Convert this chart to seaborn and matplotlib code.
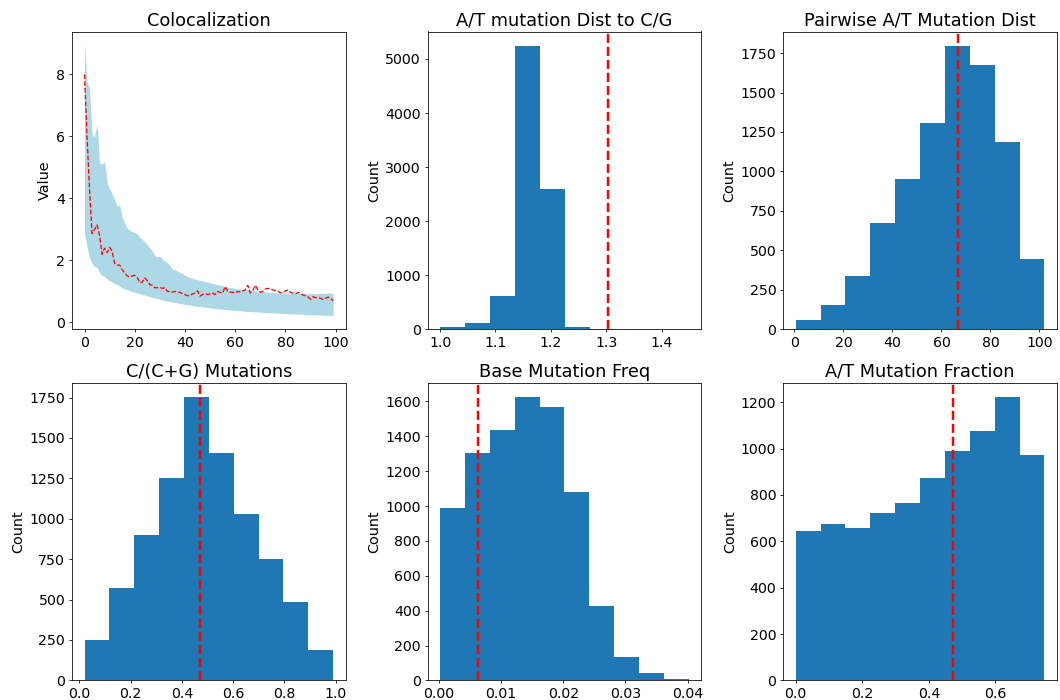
import numpy as np
import pandas as pd
import matplotlib
matplotlib.use("Agg")
import matplotlib.pyplot as plt
import seaborn as sns

# ---- Colocalization: mean curve with spread band over 100 steps ----
coloc_mean = [
    8.00, 6.00, 4.30, 2.87, 3.00, 3.15, 2.80, 2.20, 2.40, 2.25,
    2.42, 2.30, 1.90, 1.85, 1.85, 1.70, 1.60, 1.50, 1.47, 1.50,
    1.52, 1.45, 1.28, 1.30, 1.44, 1.35, 1.22, 1.20, 1.12, 1.12,
    1.13, 1.10, 1.12, 1.00, 1.00, 0.98, 1.00, 0.98, 0.97, 0.93,
    0.90, 0.86, 0.88, 0.92, 0.95, 1.02, 0.85, 0.90, 0.93, 0.90,
    0.92, 0.95, 0.90, 1.00, 0.97, 0.95, 1.16, 1.00, 0.98, 0.97,
    0.95, 1.00, 0.98, 1.02, 1.05, 1.20, 0.95, 1.02, 1.20, 1.05,
    0.97, 1.00, 1.08, 1.10, 1.07, 1.05, 1.03, 1.00, 0.96, 0.95,
    1.02, 1.05, 0.97, 0.95, 0.92, 0.97, 0.95, 0.88, 0.86, 0.82,
    0.75, 0.83, 0.80, 0.80, 0.78, 0.74, 0.78, 0.82, 0.77, 0.70,
]
coloc_upper = [
    8.95, 7.75, 7.55, 6.05, 6.00, 6.40, 5.15, 5.10, 5.20, 4.50,
    4.30, 4.15, 3.95, 3.75, 3.78, 3.40, 3.20, 3.05, 2.97, 2.93,
    2.90, 2.85, 2.75, 2.68, 2.60, 2.50, 2.40, 2.30, 2.15, 2.12,
    2.14, 2.05, 1.98, 1.92, 1.85, 1.72, 1.70, 1.66, 1.62, 1.58,
    1.52, 1.48, 1.45, 1.42, 1.40, 1.38, 1.36, 1.34, 1.32, 1.30,
    1.28, 1.26, 1.24, 1.22, 1.20, 1.18, 1.16, 1.14, 1.13, 1.12,
    1.10, 1.09, 1.08, 1.07, 1.06, 1.05, 1.04, 1.03, 1.02, 1.01,
    1.00, 0.99, 0.99, 0.98, 0.97, 0.97, 0.96, 0.96, 0.95, 0.95,
    0.94, 0.95, 0.93, 0.94, 0.96, 0.94, 0.93, 0.95, 0.94, 0.92,
    0.93, 0.94, 0.92, 0.93, 0.95, 0.93, 0.94, 0.96, 0.95, 0.92,
]
coloc_lower = [
    2.85, 2.45, 2.10, 1.90, 1.80, 1.78, 1.60, 1.52, 1.48, 1.40,
    1.35, 1.30, 1.25, 1.22, 1.18, 1.12, 1.08, 1.05, 1.02, 1.00,
    0.97, 0.95, 0.93, 0.90, 0.88, 0.86, 0.83, 0.81, 0.79, 0.77,
    0.75, 0.73, 0.71, 0.69, 0.67, 0.66, 0.64, 0.63, 0.61, 0.60,
    0.58, 0.57, 0.56, 0.54, 0.53, 0.52, 0.51, 0.50, 0.49, 0.48,
    0.47, 0.46, 0.45, 0.44, 0.43, 0.43, 0.42, 0.41, 0.40, 0.40,
    0.39, 0.38, 0.38, 0.37, 0.36, 0.36, 0.35, 0.35, 0.34, 0.34,
    0.33, 0.33, 0.32, 0.32, 0.31, 0.31, 0.30, 0.30, 0.30, 0.29,
    0.29, 0.28, 0.28, 0.28, 0.27, 0.27, 0.27, 0.26, 0.26, 0.26,
    0.25, 0.25, 0.25, 0.24, 0.24, 0.24, 0.23, 0.23, 0.23, 0.22,
]
coloc_steps = list(range(len(coloc_mean)))

# ---- Histogram panels: bin edges, bin counts, observed value ----
at_dist_edges = [1.000, 1.045, 1.090, 1.135, 1.180, 1.225, 1.270, 1.315, 1.360, 1.405, 1.449]
at_dist_counts = [35, 123, 610, 5246, 2586, 37, 5, 4, 3, 2]
at_dist_obs = 1.304

pair_edges = [0.5, 10.65, 20.8, 30.95, 41.1, 51.25, 61.4, 71.55, 81.7, 91.85, 102.0]
pair_counts = [60, 155, 338, 674, 955, 1309, 1797, 1676, 1188, 446]
pair_obs = 66.8

cg_edges = [0.0196, 0.1167, 0.2138, 0.3110, 0.4081, 0.5052, 0.6023, 0.6994, 0.7966, 0.8937, 0.9908]
cg_counts = [253, 570, 898, 1254, 1754, 1406, 1031, 754, 488, 185]
cg_obs = 0.4706

base_edges = [0.0002, 0.0042, 0.0082, 0.0122, 0.0162, 0.0202, 0.0242, 0.0282, 0.0322, 0.0362, 0.0402]
base_counts = [990, 1303, 1437, 1626, 1569, 1078, 429, 134, 40, 6]
base_obs = 0.0063

atf_edges = [0.0, 0.0747, 0.1494, 0.2241, 0.2988, 0.3735, 0.4482, 0.5229, 0.5976, 0.6723, 0.747]
atf_counts = [646, 676, 659, 723, 764, 874, 990, 1077, 1223, 973]
atf_obs = 0.471

titles = [
    "Colocalization",
    "A/T mutation Dist to C/G",
    "Pairwise A/T Mutation Dist",
    "C/(C+G) Mutations",
    "Base Mutation Freq",
    "A/T Mutation Fraction",
]

BAR_COLOR = "#1f77b4"
TICK_SIZE = 14.4
LABEL_SIZE = 14.7
TITLE_SIZE = 18.1

# 15-inch wide canvas rendered to 1060 px
DPI = 1060 / 15
fig, axes = plt.subplots(2, 3, figsize=(15, 700 / DPI), dpi=DPI)
fig.subplots_adjust(left=0.068, right=0.997, top=0.955, bottom=0.028,
                    wspace=0.30, hspace=0.18)

# Colocalization panel
ax = axes[0, 0]
ax.fill_between(coloc_steps, coloc_lower, coloc_upper, color="lightblue", linewidth=0)
sns.lineplot(x=coloc_steps, y=coloc_mean, ax=ax, color="red",
             linestyle="--", linewidth=1.3)
ax.set_ylabel("Value", fontsize=LABEL_SIZE)
ax.set_xlabel("")
ax.set_title(titles[0], fontsize=TITLE_SIZE)
ax.set_xticks([0, 20, 40, 60, 80, 100])
ax.set_yticks([0, 2, 4, 6, 8])


def hist_panel(ax, edges, counts, obs, title):
    edges = [float(e) for e in edges]
    centers = [(a + b) / 2 for a, b in zip(edges[:-1], edges[1:])]
    frame = pd.DataFrame({"value": centers, "n": counts})
    sns.histplot(data=frame, x="value", weights="n", bins=edges, ax=ax,
                 color=BAR_COLOR, alpha=1.0, linewidth=0)
    ax.axvline(obs, color="red", linestyle="--", linewidth=2.5)
    ax.set_ylabel("Count", fontsize=LABEL_SIZE)
    ax.set_xlabel("")
    ax.set_title(title, fontsize=TITLE_SIZE)


hist_panel(axes[0, 1], at_dist_edges, at_dist_counts, at_dist_obs, titles[1])
axes[0, 1].set_xticks([1.0, 1.1, 1.2, 1.3, 1.4])
hist_panel(axes[0, 2], pair_edges, pair_counts, pair_obs, titles[2])
axes[0, 2].set_yticks([0, 250, 500, 750, 1000, 1250, 1500, 1750])
hist_panel(axes[1, 0], cg_edges, cg_counts, cg_obs, titles[3])
axes[1, 0].set_yticks([0, 250, 500, 750, 1000, 1250, 1500, 1750])
hist_panel(axes[1, 1], base_edges, base_counts, base_obs, titles[4])
axes[1, 1].set_xticks([0.0, 0.01, 0.02, 0.03, 0.04])
hist_panel(axes[1, 2], atf_edges, atf_counts, atf_obs, titles[5])
axes[1, 2].set_xticks([0.0, 0.2, 0.4, 0.6])

for ax in axes.flat:
    ax.tick_params(labelsize=TICK_SIZE)

fig.savefig("out.png", dpi=DPI)
